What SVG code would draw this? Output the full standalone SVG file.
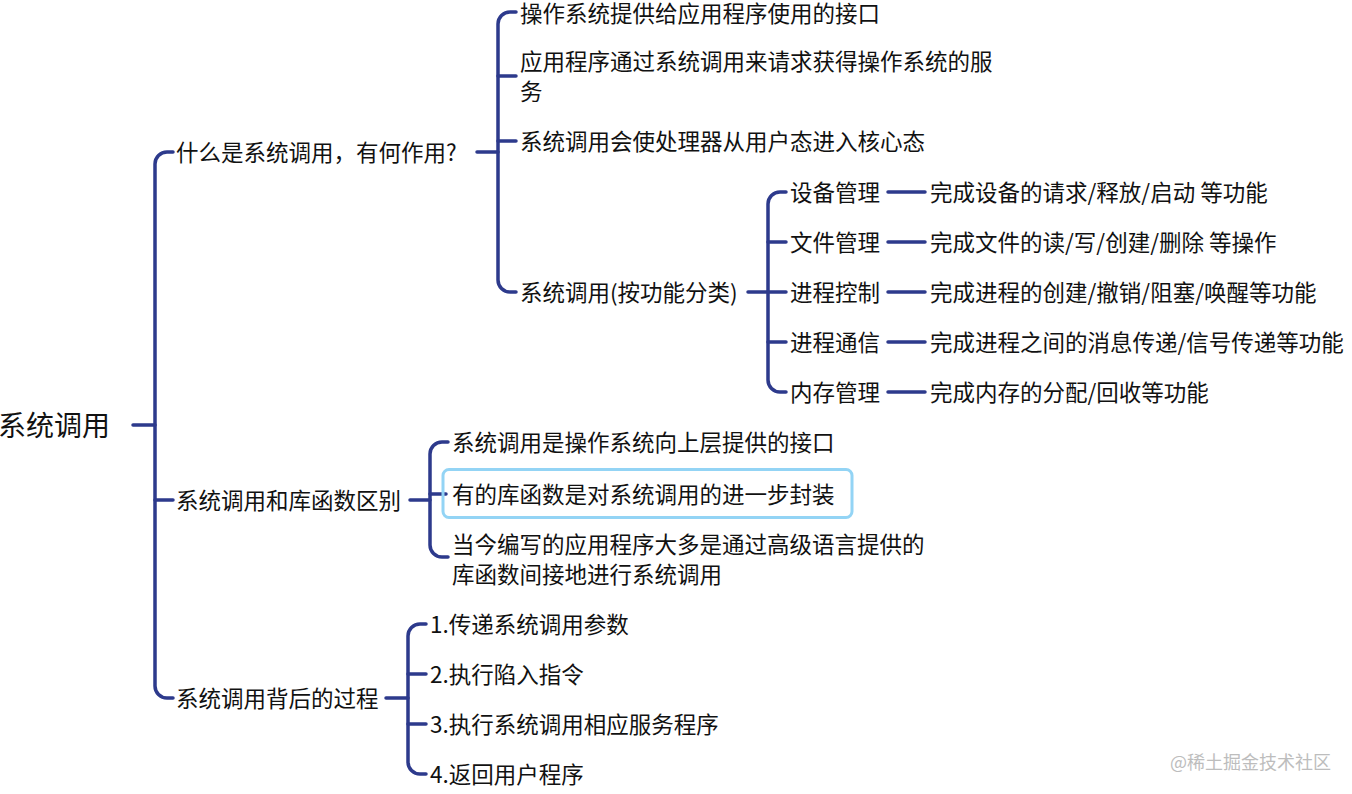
<svg xmlns="http://www.w3.org/2000/svg" width="1352" height="794" viewBox="0 0 1352 794">
<style>
  .t { font-family: "Noto Sans CJK SC", "Noto Sans", sans-serif; font-size: 22.5px; fill: #111; dominant-baseline: central; }
  .root { font-size: 28px; }
  .c { fill: none; stroke: #2d3a8c; stroke-width: 3.5; stroke-linecap: round; stroke-linejoin: round; }
  .wm { font-family: "Noto Sans CJK SC", "Noto Sans", sans-serif; font-size: 18px; fill: #bdbdbd; dominant-baseline: central; }
  .hl { fill: none; stroke: #93d4f5; stroke-width: 3; }
</style>
<rect width="1352" height="794" fill="#ffffff"/>

<g id="connectors">
  <path class="c" d="M133,425 H155"/>
  <path class="c" d="M173,152 H167 A12,12 0 0 0 155,164 V686 A12,12 0 0 0 167,698 H173"/>
  <path class="c" d="M155,500 H173"/>
  <path class="c" d="M477,152 H498"/>
  <path class="c" d="M516,12 H510 A12,12 0 0 0 498,24 V280 A12,12 0 0 0 510,292 H516"/>
  <path class="c" d="M498,76 H516"/>
  <path class="c" d="M498,141 H516"/>
  <path class="c" d="M748,292 H786"/>
  <path class="c" d="M786,192 H780 A12,12 0 0 0 768,204 V380 A12,12 0 0 0 780,392 H786"/>
  <path class="c" d="M768,242 H786"/>
  <path class="c" d="M768,342 H786"/>
  <path class="c" d="M888,192 H925"/>
  <path class="c" d="M888,242 H925"/>
  <path class="c" d="M888,292 H925"/>
  <path class="c" d="M888,342 H925"/>
  <path class="c" d="M888,392 H925"/>
  <path class="c" d="M410,500 H430"/>
  <path class="c" d="M448,442 H442 A12,12 0 0 0 430,454 V545 A12,12 0 0 0 442,557 H448"/>
  <path class="c" d="M430,494 H446"/>
  <path class="c" d="M386,698 H408"/>
  <path class="c" d="M426,624 H420 A12,12 0 0 0 408,636 V762 A12,12 0 0 0 420,774 H426"/>
  <path class="c" d="M408,674 H426"/>
  <path class="c" d="M408,724 H426"/>
</g>

<g id="root"><text class="t root" x="-2" y="423.5">系统调用</text></g>

<g id="n1"><text class="t" x="176" y="150.5">什么是系统调用，有何作用?</text></g>
<g id="n1-1"><text class="t" x="520" y="12">操作系统提供给应用程序使用的接口</text></g>
<g id="n1-2"><text class="t" x="520" y="59.5">应用程序通过系统调用来请求获得操作系统的服</text><text class="t" x="520" y="89.5">务</text></g>
<g id="n1-3"><text class="t" x="520" y="139.5">系统调用会使处理器从用户态进入核心态</text></g>
<g id="n1-4"><text class="t" x="520" y="290.5">系统调用(按功能分类)</text></g>

<g id="n1-4-1"><text class="t" x="790" y="190.5">设备管理</text></g>
<g id="n1-4-2"><text class="t" x="790" y="240.5">文件管理</text></g>
<g id="n1-4-3"><text class="t" x="790" y="290.5">进程控制</text></g>
<g id="n1-4-4"><text class="t" x="790" y="340.5">进程通信</text></g>
<g id="n1-4-5"><text class="t" x="790" y="390.5">内存管理</text></g>

<g id="leaf1"><text class="t" x="930" y="190.5">完成设备的请求/释放/启动 等功能</text></g>
<g id="leaf2"><text class="t" x="930" y="240.5">完成文件的读/写/创建/删除 等操作</text></g>
<g id="leaf3"><text class="t" x="930" y="290.5">完成进程的创建/撤销/阻塞/唤醒等功能</text></g>
<g id="leaf4"><text class="t" x="930" y="340.5">完成进程之间的消息传递/信号传递等功能</text></g>
<g id="leaf5"><text class="t" x="930" y="390.5">完成内存的分配/回收等功能</text></g>

<g id="n2"><text class="t" x="176" y="498.5">系统调用和库函数区别</text></g>
<g id="n2-1"><text class="t" x="452" y="440.5">系统调用是操作系统向上层提供的接口</text></g>
<g id="n2-2"><rect class="hl" x="443" y="469.5" width="409" height="48" rx="6"/><text class="t" x="452" y="492.5">有的库函数是对系统调用的进一步封装</text></g>
<g id="n2-3"><text class="t" x="452" y="542.5">当今编写的应用程序大多是通过高级语言提供的</text><text class="t" x="452" y="572.5">库函数间接地进行系统调用</text></g>

<g id="n3"><text class="t" x="176" y="696.5">系统调用背后的过程</text></g>
<g id="n3-1"><text class="t" x="430" y="622.5">1.传递系统调用参数</text></g>
<g id="n3-2"><text class="t" x="430" y="672.5">2.执行陷入指令</text></g>
<g id="n3-3"><text class="t" x="430" y="722.5">3.执行系统调用相应服务程序</text></g>
<g id="n3-4"><text class="t" x="430" y="772.5">4.返回用户程序</text></g>

<text class="wm" x="1170" y="761">@稀土掘金技术社区</text>
</svg>
